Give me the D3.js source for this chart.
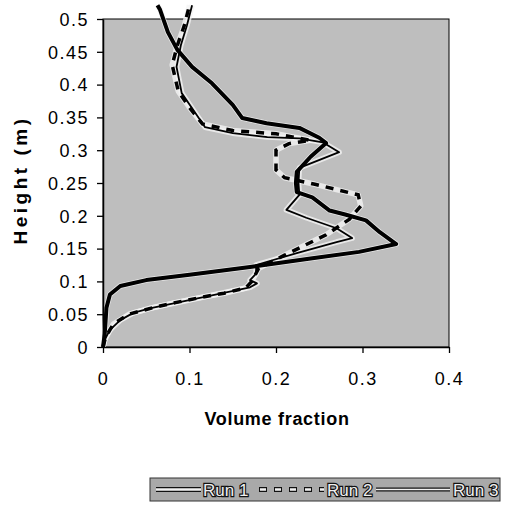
<!DOCTYPE html>
<html>
<head>
<meta charset="utf-8">
<script src="https://cdn.jsdelivr.net/npm/d3@7"></script>
<style>
  body { margin: 0; background: #fff; }
  text { font-family: "Liberation Sans", Arial, sans-serif; }
</style>
</head>
<body>
<div id="chart"></div>
<script>
// volume fraction profiles, [fraction, height]
var run1 = [[0,0],[0.002,0.02],[0.003,0.04],[0.004,0.06],[0.008,0.08],[0.02,0.093],[0.05,0.102],[0.1,0.11],
  [0.17,0.122],[0.24,0.135],[0.296,0.145],[0.339,0.157],[0.32,0.175],[0.304,0.193],[0.28,0.202],[0.262,0.208],
  [0.242,0.228],[0.224,0.236],[0.223,0.25],[0.224,0.267],[0.24,0.29],[0.258,0.311],[0.25,0.319],[0.227,0.334],
  [0.189,0.341],[0.161,0.349],[0.15,0.369],[0.126,0.402],[0.103,0.427],[0.086,0.453],[0.075,0.48],[0.066,0.514],[0.063,0.521]];

var run2 = [[0,0],[0.003,0.015],[0.012,0.035],[0.03,0.05],[0.058,0.06],[0.085,0.068],[0.115,0.076],[0.14,0.082],
  [0.165,0.09],[0.172,0.1],[0.18,0.12],[0.21,0.14],[0.258,0.171],[0.285,0.195],[0.298,0.215],[0.295,0.232],
  [0.27,0.24],[0.245,0.248],[0.21,0.258],[0.2,0.27],[0.2,0.3],[0.215,0.31],[0.24,0.315],[0.2,0.325],[0.15,0.33],
  [0.115,0.34],[0.1,0.365],[0.087,0.39],[0.08,0.43],[0.086,0.46],[0.094,0.49],[0.1,0.521]];

var run3 = [[0,0],[0.002,0.011],[0.008,0.026],[0.02,0.041],[0.035,0.052],[0.054,0.059],[0.112,0.075],[0.17,0.091],
  [0.178,0.097],[0.17,0.102],[0.177,0.112],[0.177,0.125],[0.224,0.143],[0.27,0.16],[0.288,0.166],[0.27,0.181],
  [0.235,0.197],[0.212,0.209],[0.227,0.232],[0.226,0.25],[0.227,0.273],[0.273,0.297],[0.254,0.312],[0.227,0.318],
  [0.19,0.32],[0.15,0.326],[0.118,0.335],[0.105,0.36],[0.091,0.387],[0.085,0.427],[0.09,0.46],[0.097,0.49],[0.103,0.521]];

var xTicks = [0, 0.1, 0.2, 0.3, 0.4];
var yTicks = [0, 0.05, 0.1, 0.15, 0.2, 0.25, 0.3, 0.35, 0.4, 0.45, 0.5];
var seriesNames = ["Run 1", "Run 2", "Run 3"];

var svgWidth = 508, svgHeight = 505;
var margin = {top: 19, left: 103};
var width = 346, height = 328;

var svg = d3.select("#chart").append("svg")
  .attr("width", svgWidth)
  .attr("height", svgHeight);

var g = svg.append("g")
  .attr("transform", `translate(${margin.left}, ${margin.top})`);

var x = d3.scaleLinear().domain([0, 0.4]).range([0, width]);
var y = d3.scaleLinear().domain([0, 0.5]).range([height, 0]);

// plot area
g.append("rect")
  .attr("width", width).attr("height", height)
  .attr("fill", "#bebebe")
  .attr("stroke", "#000").attr("stroke-width", 1);

var line = d3.line().x(d => x(d[0])).y(d => y(d[1]));

// light halo under every run (scan look)
[run1, run2, run3].forEach(function(r) {
  g.append("path").datum(r).attr("d", line)
    .attr("fill", "none").attr("stroke", "#f4f4f4").attr("stroke-width", 5.5)
    .attr("stroke-linejoin", "round").attr("opacity", 0.8);
});

// run 3: thin line
g.append("path").datum(run3).attr("d", line)
  .attr("fill", "none").attr("stroke", "#000").attr("stroke-width", 1.8).attr("stroke-linejoin", "round");

// run 2: dashed
g.append("path").datum(run2).attr("d", line)
  .attr("fill", "none").attr("stroke", "#000").attr("stroke-width", 3.5)
  .attr("stroke-dasharray", "8,7");

// run 1: thick
g.append("path").datum(run1).attr("d", line)
  .attr("fill", "none").attr("stroke", "#000").attr("stroke-width", 4).attr("stroke-linejoin", "round");

// axes
var xAxis = g.append("g")
  .attr("transform", `translate(0, ${height})`)
  .call(d3.axisBottom(x).tickValues(xTicks).tickSize(6).tickSizeOuter(0).tickFormat(d3.format("")));
var yAxis = g.append("g")
  .call(d3.axisLeft(y).tickValues(yTicks).tickSize(6).tickSizeOuter(0).tickFormat(d3.format("")));

[xAxis, yAxis].forEach(function(ax) {
  ax.attr("font-size", 18).attr("font-family", "'Liberation Sans', Arial, sans-serif");
  ax.select(".domain").attr("stroke", "#000").attr("stroke-width", 1.5);
  ax.selectAll(".tick line").attr("stroke", "#000").attr("stroke-width", 1.3);
  ax.selectAll(".tick text")
    .attr("fill", "#000")
    .style("letter-spacing", "1.5px");
});
xAxis.selectAll(".tick text").attr("y", 0).attr("dy", 38);
yAxis.selectAll(".tick text").attr("x", -14).attr("dy", "0.35em");

// axis titles
svg.append("text")
  .attr("transform", "translate(27, 180) rotate(-90)")
  .attr("text-anchor", "middle")
  .style("font-size", "19px").style("font-weight", "bold").style("letter-spacing", "3.5px")
  .text("Height (m)");

svg.append("text")
  .attr("x", 277).attr("y", 425)
  .attr("text-anchor", "middle")
  .style("font-size", "18px").style("font-weight", "bold").style("letter-spacing", "0.7px")
  .text("Volume fraction");

// legend
var legend = svg.append("g");
legend.append("rect")
  .attr("x", 150).attr("y", 478).attr("width", 350).attr("height", 23)
  .attr("fill", "#a9a9a9").attr("stroke", "#333").attr("stroke-width", 1);

var legItems = [
  {x0: 156, x1: 201, tx: 203},
  {x0: 259, x1: 324, tx: 327},
  {x0: 376, x1: 450, tx: 453}
];
legItems.forEach(function(it, i) {
  var ly = 489.5;
  legend.append("line").attr("x1", it.x0).attr("x2", it.x1).attr("y1", ly).attr("y2", ly)
    .attr("stroke", "#111").attr("stroke-width", i === 2 ? 4 : 5)
    .attr("stroke-dasharray", i === 1 ? "8,7" : null);
  legend.append("line").attr("x1", it.x0 + (i === 1 ? 1 : 0)).attr("x2", it.x1).attr("y1", ly).attr("y2", ly)
    .attr("stroke", "#f2f2f2").attr("stroke-width", i === 2 ? 1.6 : 2.6)
    .attr("stroke-dasharray", i === 1 ? "6,9" : null);
  legend.append("text")
    .attr("x", it.tx).attr("y", ly + 6.5)
    .attr("fill", "#f0f0f0").attr("stroke", "#111").attr("stroke-width", 2.4)
    .style("paint-order", "stroke")
    .style("font-size", "17px")
    .text(seriesNames[i]);
});
</script>
</body>
</html>
